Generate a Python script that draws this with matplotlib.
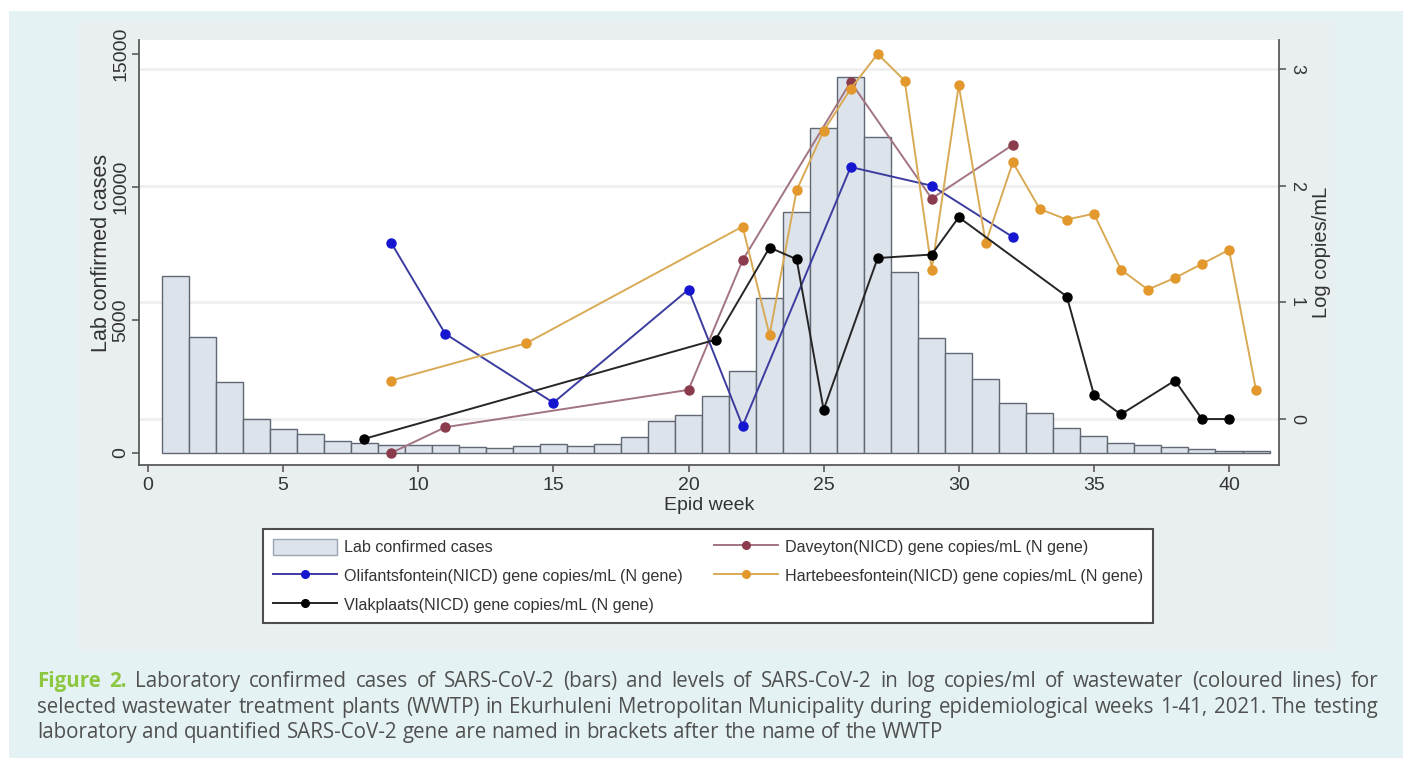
import numpy as np
import matplotlib.pyplot as plt
from matplotlib.patches import Rectangle, Patch
from matplotlib.lines import Line2D
from matplotlib.transforms import IdentityTransform, blended_transform_factory

# weekly lab confirmed cases, epid weeks 1-41
weeks = np.arange(1, 42)
cases = [6650, 4370, 2660, 1270, 890, 700, 460, 390, 300, 300,
         300, 240, 200, 275, 340, 275, 325, 590, 1190, 1430,
         2140, 3080, 5815, 9070, 12200, 14120, 11870, 6790, 4310, 3770,
         2770, 1890, 1520, 950, 650, 390, 290, 225, 160, 90, 75]

# log copies/mL per WWTP
olif_weeks = [9, 11, 15, 20, 22, 26, 29, 32]
olif_log = [1.51, 0.73, 0.14, 1.11, -0.06, 2.16, 2.00, 1.56]

dav_weeks = [9, 11, 20, 22, 26, 29, 32]
dav_log = [-0.29, -0.07, 0.25, 1.36, 2.89, 1.89, 2.35]

hart_weeks = [9, 14, 22, 23, 24, 25, 26, 27, 28, 29, 30, 31, 32, 33, 34, 35,
              36, 37, 38, 39, 40, 41]
hart_log = [0.33, 0.65, 1.65, 0.72, 1.96, 2.47, 2.83, 3.13, 2.90, 1.28, 2.86,
            1.51, 2.20, 1.80, 1.71, 1.76, 1.28, 1.11, 1.21, 1.33, 1.45, 0.25]

vlak_weeks = [8, 21, 23, 24, 25, 27, 29, 30, 34, 35, 36, 38, 39, 40]
vlak_log = [-0.17, 0.68, 1.47, 1.37, 0.08, 1.38, 1.41, 1.73, 1.05, 0.21,
            0.04, 0.33, 0.0, 0.0]

labels = ["Lab confirmed cases",
          "Olifantsfontein(NICD) gene copies/mL (N gene)",
          "Vlakplaats(NICD) gene copies/mL (N gene)",
          "Daveyton(NICD) gene copies/mL (N gene)",
          "Hartebeesfontein(NICD) gene copies/mL (N gene)"]

W, H = 1406, 758
stata_font = ["Liberation Sans Narrow", "Liberation Sans", "DejaVu Sans"]
plt.rcParams['font.family'] = stata_font

fig = plt.figure(figsize=(W / 100, H / 100), dpi=100, facecolor="white")

# page panel and graph region
fig.patches.append(Rectangle((9 / W, 0), 1394 / W, (H - 11) / H,
                             transform=fig.transFigure, facecolor="#e4f2f4",
                             edgecolor="none", zorder=-3))
fig.patches.append(Rectangle((77 / W, (H - 651) / H), 1258 / W, 629 / H,
                             transform=fig.transFigure, facecolor="#e9eff1",
                             edgecolor="none", zorder=-2))

ax = fig.add_axes([139 / W, (H - 465) / H, 1140 / W, 425 / H])
ax.set_facecolor("white")
ax2 = ax.twinx()

ax.set_xlim(-0.333, 41.85)
ax.set_ylim(-451, 15526)
ax2.set_ylim(-0.394, 3.249)

axis_col = "#5a5a5a"
text_col = "#333333"

# horizontal grid from the right axis, drawn under the bars
grid_tr = blended_transform_factory(ax.transAxes, ax2.transData)
for v in [0, 1, 2, 3]:
    ax.add_line(Line2D([0, 1], [v, v], transform=grid_tr, color="#efefef",
                       lw=2, zorder=0))

ax.bar(weeks, cases, width=1.0, color="#dde3eb", edgecolor="#5f6873",
       linewidth=1.0, zorder=2)

# wastewater lines
series = [
    (dav_weeks, dav_log, "#a27482", "#8a3b4c"),
    (olif_weeks, olif_log, "#3c3ca0", "#1616d0"),
    (hart_weeks, hart_log, "#d9aa55", "#e2982c"),
    (vlak_weeks, vlak_log, "#262626", "#000000"),
]
for wk, vals, lc, mc in series:
    ax2.plot(wk, vals, color=lc, lw=1.4, marker="o", ms=6.5,
             markerfacecolor=mc, markeredgecolor=mc, zorder=3)

# axes styling
for s in ["top", "right"]:
    ax.spines[s].set_visible(False)
for s in ["top", "left", "bottom"]:
    ax2.spines[s].set_visible(False)
for sp in [ax.spines["left"], ax.spines["bottom"], ax2.spines["right"]]:
    sp.set_color(axis_col)
    sp.set_linewidth(1.3)

ax.set_xticks(range(0, 41, 5))
ax.set_yticks([0, 5000, 10000, 15000])
ax2.set_yticks([0, 1, 2, 3])
ax.tick_params(axis="both", color=axis_col, length=5, width=1.2,
               labelcolor=text_col)
ax.tick_params(axis="x", labelsize=14, pad=4)
ax.tick_params(axis="y", labelsize=14, pad=2)
ax2.tick_params(axis="y", color=axis_col, length=5, width=1.2,
                labelcolor=text_col, labelsize=13, pad=1.5)
plt.setp(ax.get_yticklabels(), rotation=90, va="center", ha="right")
plt.setp(ax2.get_yticklabels(), rotation=-90, va="center", ha="left")

ax.set_xlabel("Epid week", fontsize=14, color=text_col, labelpad=2)
ax.set_ylabel("Lab confirmed cases", fontsize=15.5, color=text_col, labelpad=0)
ax2.set_ylabel("Log copies/mL", fontsize=14.5, color=text_col, labelpad=5,
               rotation=90)

# legend, row-major like the original: handles ordered for column fill
handles = [Patch(facecolor="#dde3eb", edgecolor="#9aa4b2", lw=1),
           Line2D([], [], color="#3c3ca0", lw=1.4, marker="o", ms=5.5,
                  markerfacecolor="#1616d0", markeredgecolor="#1616d0"),
           Line2D([], [], color="#262626", lw=1.4, marker="o", ms=5.5,
                  markerfacecolor="#000000", markeredgecolor="#000000"),
           Line2D([], [], color="#a27482", lw=1.4, marker="o", ms=5.5,
                  markerfacecolor="#8a3b4c", markeredgecolor="#8a3b4c"),
           Line2D([], [], color="#d9aa55", lw=1.4, marker="o", ms=5.5,
                  markerfacecolor="#e2982c", markeredgecolor="#e2982c")]
leg = fig.legend(handles, labels, ncol=2, mode="expand",
                 bbox_to_anchor=(263 / W, (H - 628) / H, 890 / W, 99 / H),
                 loc="upper left", borderaxespad=0, fontsize=11.6,
                 handlelength=4.0, handleheight=1.15, handletextpad=0.45,
                 labelspacing=0.78, borderpad=0.6, columnspacing=2.5,
                 fancybox=False, framealpha=1, labelcolor=text_col)
leg.get_frame().set_edgecolor("#4d4d4d")
leg.get_frame().set_linewidth(1.5)

# caption, justified to the page text block
cap_font = ["Open Sans", "DejaVu Sans"]
cap_size = 14.8
cap_col = "#505050"
cap_green = "#8dc63f"
cap_lines = [
    [("Figure", "bold"), ("2.", "bold")] + [(w, "normal") for w in
        "Laboratory confirmed cases of SARS-CoV-2 (bars) and levels of SARS-CoV-2 in log copies/ml of wastewater (coloured lines) for".split()],
    [(w, "normal") for w in
        "selected wastewater treatment plants (WWTP) in Ekurhuleni Metropolitan Municipality during epidemiological weeks 1-41, 2021. The testing".split()],
    [(w, "normal") for w in
        "laboratory and quantified SARS-CoV-2 gene are named in brackets after the name of the WWTP".split()],
]
cap_base = [687, 713, 738]
x_left, x_right = 37, 1378

renderer = fig.canvas.get_renderer()


def text_width(s, weight):
    t = fig.text(0, 0, s, family=cap_font, size=cap_size, weight=weight,
                 transform=IdentityTransform())
    w = t.get_window_extent(renderer=renderer).width
    t.remove()
    return w


space_w = text_width("a a", "normal") - text_width("aa", "normal")

for i, (line, yy) in enumerate(zip(cap_lines, cap_base)):
    widths = [text_width(w, wt) for w, wt in line]
    if i < len(cap_lines) - 1:
        gap = (x_right - x_left - sum(widths)) / (len(line) - 1)
    else:
        gap = space_w
    x = x_left
    for (word, wt), wd in zip(line, widths):
        fig.text(x, H - yy, word, family=cap_font, size=cap_size, weight=wt,
                 color=cap_green if wt == "bold" else cap_col,
                 va="baseline", ha="left", transform=IdentityTransform())
        x += wd + gap

fig.savefig("out.png", dpi=100, facecolor="white")
